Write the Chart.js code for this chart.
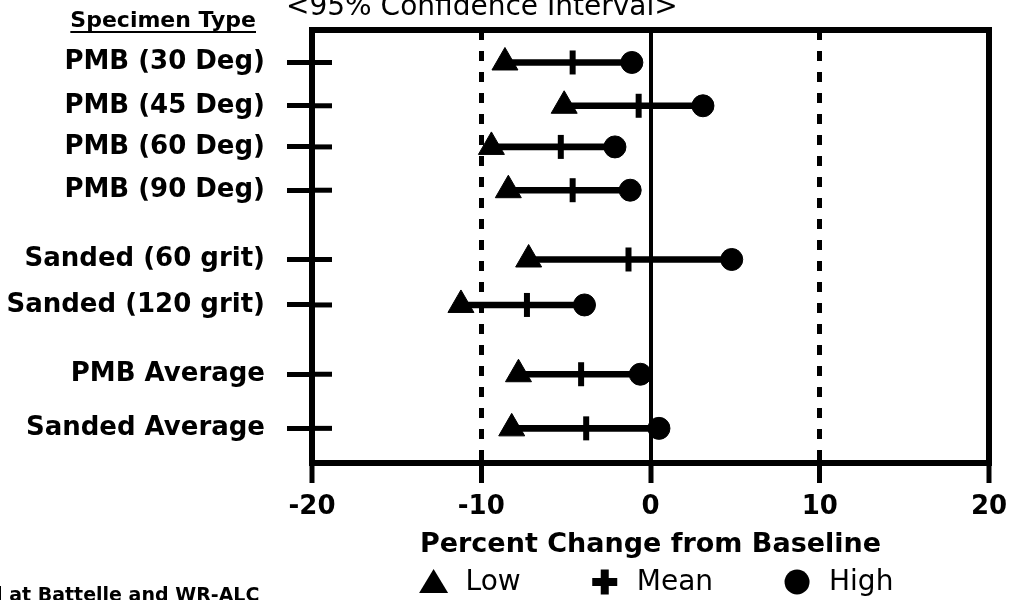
<!DOCTYPE html>
<html>
<head>
<meta charset="utf-8">
<script src="https://cdn.jsdelivr.net/npm/chart.js@4.4.0/dist/chart.umd.min.js"></script>
<style>
  body { margin: 0; background: #fff; }
</style>
</head>
<body>
<canvas id="ciChart" width="1012" height="600"></canvas>
<script>
// specimen types, top to bottom
const specimens = ['PMB (30 Deg)', 'PMB (45 Deg)', 'PMB (60 Deg)', 'PMB (90 Deg)',
  'Sanded (60 grit)', 'Sanded (120 grit)', 'PMB Average', 'Sanded Average'];
// row slot on the vertical scale (groups are separated by a gap)
const rowSlot = [0.75, 1.75, 2.7, 3.7, 5.3, 6.35, 7.95, 9.2];
// 95% confidence interval, percent change from baseline
const lowVals  = [-8.6, -5.1, -9.4, -8.4, -7.2, -11.2, -7.8, -8.2];
const meanVals = [-4.6, -0.7, -5.3, -4.6, -1.3, -7.3, -4.1, -3.8];
const highVals = [-1.1,  3.1, -2.1, -1.2,  4.8, -3.9, -0.6,  0.5];
const xTicks = [-20, -10, 0, 10, 20];

const FONT = 'DejaVu Sans';

function pts(vals) {
    return rowSlot.map((s, i) => ({ x: vals[i], y: s }));
}

// frame, inner tick stubs, texts and the legend row
const decor = {
    id: 'decor',
    beforeDatasetsDraw(chart) {
        const { ctx, chartArea: a, scales: { y } } = chart;
        ctx.save();
        ctx.strokeStyle = '#000';
        ctx.lineWidth = 5;
        y.ticks.forEach(t => {
            const py = y.getPixelForValue(t.value);
            ctx.beginPath();
            ctx.moveTo(a.left, py);
            ctx.lineTo(a.left + 20, py);
            ctx.stroke();
        });
        ctx.lineWidth = 6;
        ctx.strokeRect(a.left, a.top, a.right - a.left, a.bottom - a.top);
        ctx.restore();
    },
    afterDraw(chart) {
        const { ctx, chartArea: a } = chart;
        ctx.save();
        ctx.fillStyle = '#000';
        ctx.strokeStyle = '#000';
        ctx.textBaseline = 'alphabetic';
        ctx.textAlign = 'left';

        // top title (cut off at the top edge)
        ctx.font = `28px "${FONT}"`;
        ctx.fillText('<95% Confidence Interval>', 286, 15);

        // column heading, underlined
        ctx.font = `bold 22px "${FONT}"`;
        const head = 'Specimen Type';
        const hw = ctx.measureText(head).width;
        ctx.fillText(head, 256 - hw, 27);
        ctx.lineWidth = 2;
        ctx.beginPath();
        ctx.moveTo(256 - hw, 32);
        ctx.lineTo(256, 32);
        ctx.stroke();

        // note at the bottom left (cut off)
        ctx.font = `bold 19px "${FONT}"`;
        ctx.fillText('d at Battelle and WR-ALC', -11, 601);

        // legend
        ctx.font = `28px "${FONT}"`;
        ctx.textBaseline = 'middle';
        const items = chart.data.datasets.filter(d => d.type !== 'bar');
        const markW = 28, gap = 18, itemGap = 70;
        const widths = items.map(d => markW + gap + ctx.measureText(d.label).width);
        const total = widths.reduce((s, w) => s + w, 0) + itemGap * (items.length - 1);
        let x = (a.left + a.right) / 2 + 6 - total / 2;
        const ly = 582;
        items.forEach((d, i) => {
            const cx = x + markW / 2;
            ctx.beginPath();
            if (d.pointStyle === 'triangle') {
                ctx.moveTo(cx, ly - 13);
                ctx.lineTo(cx + 14.5, ly + 11);
                ctx.lineTo(cx - 14.5, ly + 11);
                ctx.closePath();
                ctx.fill();
            } else if (d.pointStyle === 'circle') {
                ctx.arc(cx, ly, 12.5, 0, Math.PI * 2);
                ctx.fill();
            } else {
                ctx.lineWidth = 8;
                ctx.moveTo(cx - 12.5, ly);
                ctx.lineTo(cx + 12.5, ly);
                ctx.moveTo(cx, ly - 12.5);
                ctx.lineTo(cx, ly + 12.5);
                ctx.stroke();
            }
            ctx.fillText(d.label, x + markW + gap, ly + 1);
            x += widths[i] + itemGap;
        });
        ctx.restore();
    }
};

new Chart(document.getElementById('ciChart'), {
    type: 'scatter',
    data: {
        datasets: [
            {
                type: 'bar',
                label: 'Interval',
                indexAxis: 'y',
                data: rowSlot.map((s, i) => ({ x: [lowVals[i], highVals[i]], y: s })),
                backgroundColor: '#000',
                barThickness: 6,
                order: 3
            },
            {
                label: 'Low',
                data: pts(lowVals),
                pointStyle: 'triangle',
                pointRadius: 15,
                pointBackgroundColor: '#000',
                pointBorderColor: '#000',
                pointBorderWidth: 1,
                order: 1
            },
            {
                label: 'Mean',
                data: pts(meanVals),
                pointStyle: 'line',
                pointRotation: 90,
                pointRadius: 12,
                pointBorderColor: '#000',
                pointBorderWidth: 6,
                order: 2
            },
            {
                label: 'High',
                data: pts(highVals),
                pointStyle: 'circle',
                pointRadius: 11,
                pointBackgroundColor: '#000',
                pointBorderColor: '#000',
                pointBorderWidth: 1,
                order: 1
            }
        ]
    },
    options: {
        responsive: false,
        animation: false,
        events: [],
        layout: { padding: { top: 30, right: 23, bottom: 0, left: 0 } },
        plugins: {
            legend: { display: false },
            tooltip: { enabled: false }
        },
        scales: {
            x: {
                type: 'linear',
                min: -20,
                max: 20,
                afterBuildTicks: s => { s.ticks = xTicks.map(v => ({ value: v })); },
                afterFit: s => {
                    s.height = 137;
                    s.paddingRight = 0;
                },
                ticks: {
                    color: '#000',
                    padding: 9,
                    font: { family: FONT, weight: 'bold', size: 26 }
                },
                grid: {
                    color: '#000',
                    lineWidth: c => {
                        if (!c.tick) return 0;
                        const v = c.tick.value;
                        if (Math.abs(v) === 20) return 0;
                        return v === 0 ? 4 : 5;
                    },
                    drawTicks: true,
                    tickLength: 20,
                    tickWidth: 5,
                    tickColor: '#000'
                },
                border: {
                    display: true,
                    color: '#000',
                    width: 6,
                    dash: c => (c.tick && Math.abs(c.tick.value) === 10) ? [10, 11] : []
                },
                title: {
                    display: true,
                    text: 'Percent Change from Baseline',
                    color: '#000',
                    font: { family: FONT, weight: 'bold', size: 27 },
                    padding: { top: 0, bottom: 39 }
                }
            },
            y: {
                type: 'linear',
                min: 0,
                max: 10,
                reverse: true,
                offset: false,
                afterBuildTicks: s => { s.ticks = rowSlot.map(v => ({ value: v })); },
                afterFit: s => {
                    s.width = 312;
                    s.paddingTop = 0;
                    s.paddingBottom = 0;
                },
                ticks: {
                    callback: (v, i) => specimens[i],
                    autoSkip: false,
                    color: '#000',
                    padding: 22,
                    font: { family: FONT, weight: 'bold', size: 26 }
                },
                grid: {
                    offset: false,
                    drawOnChartArea: false,
                    drawTicks: true,
                    tickLength: 25,
                    tickWidth: 5,
                    tickColor: '#000',
                    color: '#000'
                },
                border: { display: true, color: '#000', width: 6 }
            }
        }
    },
    plugins: [decor]
});
</script>
</body>
</html>
